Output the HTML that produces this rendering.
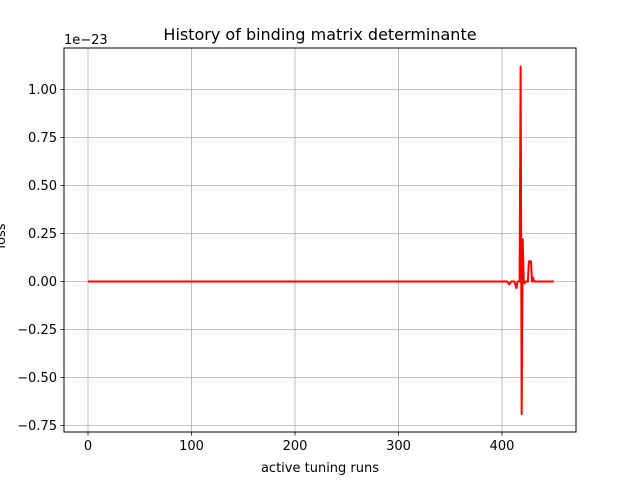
<!DOCTYPE html>
<html><head><meta charset="utf-8"><style>
body{margin:0;background:#fff;}
svg{display:block;font-family:"DejaVu Sans","Liberation Sans",sans-serif;}
</style></head><body>
<svg id="c" width="640" height="480">
<rect width="640" height="480" fill="#fff"/>
<g id="grid"></g>
<g id="ticks"></g>
<rect x="64" y="48" width="512" height="384" fill="none" stroke="#000" stroke-width="1"/>
<text x="320" y="40" font-size="16" text-anchor="middle">History of binding matrix determinante</text>
<text x="320" y="472" font-size="13" text-anchor="middle">active tuning runs</text>
<text x="5" y="236" font-size="13" text-anchor="middle" transform="rotate(-90 5 236)">loss</text>
<text x="64" y="44" font-size="13">1e−23</text>
</svg>
<script>
const xTicks=[0,100,200,300,400];
const yTicks=[-0.75,-0.5,-0.25,0,0.25,0.5,0.75,1.0];
const yLabels=["−0.75","−0.50","−0.25","0.00","0.25","0.50","0.75","1.00"];
const runs=[0,400,405,407,409,412,414,415,417,418,419,420,421,422,423,425,426,428,429,430,431,435,450];
const loss=[0,0,0,-0.015,0,0,-0.035,0,0,1.12,-0.69,0.22,0,-0.01,0,0,0.105,0.105,0,0.02,0,0,0];
const NS="http://www.w3.org/2000/svg";
const X=v=>88+v*1.035;
const Y=v=>281.5-v*192;
const svg=document.getElementById('c'),grid=document.getElementById('grid'),tk=document.getElementById('ticks');
function mk(t,a,p){const e=document.createElementNS(NS,t);for(const k in a)e.setAttribute(k,a[k]);p.appendChild(e);return e;}
xTicks.forEach(v=>{
 const g=mk('line',{x1:X(v),x2:X(v),y1:48,y2:432,stroke:'#b0b0b0','stroke-width':0.8},grid);
 
 
 mk('line',{x1:X(v),x2:X(v),y1:432,y2:435.5,stroke:'#000','stroke-width':0.8},tk);
 const t=mk('text',{x:X(v),y:450,'font-size':13,'text-anchor':'middle'},tk);t.textContent=v;
 
 
});
yTicks.forEach((v,i)=>{
 const g=mk('line',{x1:64,x2:576,y1:Y(v),y2:Y(v),stroke:'#b0b0b0','stroke-width':0.8},grid);
 
 
 mk('line',{x1:60.5,x2:64,y1:Y(v),y2:Y(v),stroke:'#000','stroke-width':0.8},tk);
 const t=mk('text',{x:57,y:Y(v)+4.5,'font-size':13,'text-anchor':'end'},tk);t.textContent=yLabels[i];
 
 
});
const pts=runs.map((r,i)=>X(r)+','+Y(loss[i])).join(' ');
const pl=mk('polyline',{points:pts,fill:'none',stroke:'#ff0000','stroke-width':2,'stroke-linejoin':'round'},svg);


</script>
</body></html>
